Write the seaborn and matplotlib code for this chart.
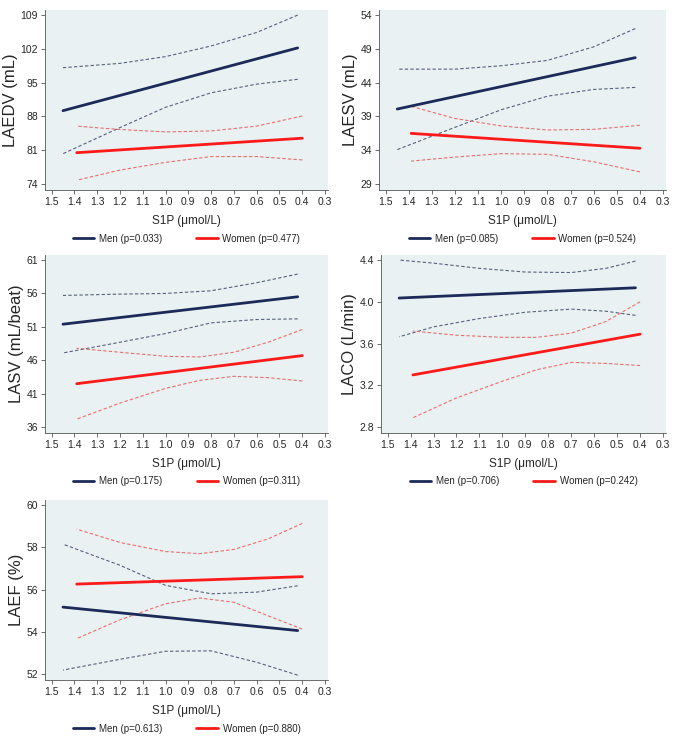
import matplotlib
matplotlib.use('Agg')
import matplotlib.pyplot as plt
import seaborn as sns
import numpy as np

# S1P axis (reversed), lines run between these x ends
men_x_ends = [1.45, 0.42]
women_x_ends = [1.39, 0.40]

# ---- LAEDV ----
laedv_men = [89.2, 102.2]
laedv_women = [80.5, 83.5]
laedv_men_ci_x = [1.45, 1.2, 1.0, 0.8, 0.6, 0.42]
laedv_men_up = [98.1, 99.0, 100.4, 102.6, 105.4, 109.0]
laedv_men_lo = [80.3, 85.7, 89.9, 92.9, 94.7, 95.7]
laedv_women_ci_x = [1.39, 1.2, 1.0, 0.8, 0.6, 0.40]
laedv_women_up = [86.0, 85.3, 84.8, 85.0, 86.0, 88.1]
laedv_women_lo = [74.8, 76.9, 78.5, 79.7, 79.7, 79.0]

# ---- LAESV ----
laesv_men = [40.1, 47.7]
laesv_women = [36.5, 34.3]
laesv_men_ci_x = [1.45, 1.2, 1.0, 0.8, 0.6, 0.42]
laesv_men_up = [46.0, 46.0, 46.5, 47.3, 49.3, 52.0]
laesv_men_lo = [34.1, 37.4, 40.0, 42.0, 43.0, 43.3]
laesv_women_ci_x = [1.39, 1.2, 1.0, 0.8, 0.6, 0.40]
laesv_women_up = [40.5, 38.7, 37.6, 37.0, 37.1, 37.7]
laesv_women_lo = [32.4, 33.0, 33.5, 33.4, 32.3, 30.8]

# ---- LASV ----
lasv_men = [51.4, 55.5]
lasv_women = [42.5, 46.7]
lasv_men_ci_x = [1.45, 1.2, 1.0, 0.8, 0.6, 0.42]
lasv_men_up = [55.7, 55.9, 56.0, 56.4, 57.6, 58.9]
lasv_men_lo = [47.1, 48.7, 50.0, 51.6, 52.1, 52.2]
lasv_women_ci_x = [1.39, 1.2, 1.0, 0.85, 0.7, 0.55, 0.40]
lasv_women_up = [47.8, 47.2, 46.6, 46.5, 47.2, 48.7, 50.6]
lasv_women_lo = [37.2, 39.6, 41.8, 43.0, 43.6, 43.4, 42.9]

# ---- LACO ----
laco_men = [4.036, 4.134]
laco_women = [3.30, 3.69]
laco_men_ci_x = [1.45, 1.3, 1.1, 0.9, 0.7, 0.55, 0.42]
laco_men_up = [4.40, 4.37, 4.32, 4.285, 4.28, 4.32, 4.39]
laco_men_lo = [3.665, 3.76, 3.84, 3.90, 3.93, 3.91, 3.87]
laco_women_ci_x = [1.39, 1.2, 1.0, 0.85, 0.7, 0.55, 0.40]
laco_women_up = [3.72, 3.68, 3.66, 3.66, 3.70, 3.81, 4.00]
laco_women_lo = [2.89, 3.08, 3.24, 3.35, 3.42, 3.41, 3.39]

# ---- LAEF ----
laef_men = [55.17, 54.06]
laef_women = [56.26, 56.61]
laef_men_ci_x = [1.45, 1.2, 1.0, 0.8, 0.6, 0.42]
laef_men_up = [58.15, 57.15, 56.2, 55.8, 55.88, 56.18]
laef_men_lo = [52.19, 52.7, 53.08, 53.1, 52.56, 51.95]
laef_women_ci_x = [1.39, 1.2, 1.0, 0.85, 0.7, 0.55, 0.40]
laef_women_up = [58.86, 58.23, 57.8, 57.7, 57.9, 58.4, 59.13]
laef_women_lo = [53.68, 54.57, 55.33, 55.6, 55.4, 54.76, 54.13]

panels = [
    dict(ylabel='LAEDV (mL)', yticks=[74, 81, 88, 95, 102, 109], fmt='{:.0f}',
         men=laedv_men, women=laedv_women,
         mcx=laedv_men_ci_x, mup=laedv_men_up, mlo=laedv_men_lo,
         wcx=laedv_women_ci_x, wup=laedv_women_up, wlo=laedv_women_lo,
         p_men='0.033', p_women='0.477'),
    dict(ylabel='LAESV (mL)', yticks=[29, 34, 39, 44, 49, 54], fmt='{:.0f}',
         men=laesv_men, women=laesv_women,
         mcx=laesv_men_ci_x, mup=laesv_men_up, mlo=laesv_men_lo,
         wcx=laesv_women_ci_x, wup=laesv_women_up, wlo=laesv_women_lo,
         p_men='0.085', p_women='0.524'),
    dict(ylabel='LASV (mL/beat)', yticks=[36, 41, 46, 51, 56, 61], fmt='{:.0f}',
         men=lasv_men, women=lasv_women,
         mcx=lasv_men_ci_x, mup=lasv_men_up, mlo=lasv_men_lo,
         wcx=lasv_women_ci_x, wup=lasv_women_up, wlo=lasv_women_lo,
         p_men='0.175', p_women='0.311'),
    dict(ylabel='LACO (L/min)', yticks=[2.8, 3.2, 3.6, 4.0, 4.4], fmt='{:.1f}',
         men=laco_men, women=laco_women,
         mcx=laco_men_ci_x, mup=laco_men_up, mlo=laco_men_lo,
         wcx=laco_women_ci_x, wup=laco_women_up, wlo=laco_women_lo,
         p_men='0.706', p_women='0.242'),
    dict(ylabel='LAEF (%)', yticks=[52, 54, 56, 58, 60], fmt='{:.0f}',
         men=laef_men, women=laef_women,
         mcx=laef_men_ci_x, mup=laef_men_up, mlo=laef_men_lo,
         wcx=laef_women_ci_x, wup=laef_women_up, wlo=laef_women_lo,
         p_men='0.613', p_women='0.880'),
]

xticks = [1.5, 1.4, 1.3, 1.2, 1.1, 1.0, 0.9, 0.8, 0.7, 0.6, 0.5, 0.4, 0.3]

sns.set_theme(style='white')
plt.rcParams['font.family'] = ['Liberation Sans', 'DejaVu Sans']

MEN = '#1b2a58'
WOMEN = '#ff1a1a'
MEN_CI = '#55607e'
WOMEN_CI = '#f26a6a'
BG = '#e9f1f2'

fig = plt.figure(figsize=(6.76, 7.38), dpi=100)
W, H = 676, 738
# axes boxes in pixels: left, top, right, bottom
boxes = [(45, 10, 328, 190), (379, 10, 666, 190),
         (45, 255, 328, 433), (381, 255, 666, 433),
         (45, 500, 328, 680)]

for p, (l, t, r, b) in zip(panels, boxes):
    ax = fig.add_axes([l / W, 1 - b / H, (r - l) / W, (b - t) / H])
    ax.set_facecolor(BG)
    sns.lineplot(x=p['mcx'], y=p['mup'], ax=ax, color=MEN_CI, lw=0.8, linestyle=(0, (3, 2)))
    sns.lineplot(x=p['mcx'], y=p['mlo'], ax=ax, color=MEN_CI, lw=0.8, linestyle=(0, (3, 2)))
    sns.lineplot(x=p['wcx'], y=p['wup'], ax=ax, color=WOMEN_CI, lw=0.8, linestyle=(0, (3, 2)))
    sns.lineplot(x=p['wcx'], y=p['wlo'], ax=ax, color=WOMEN_CI, lw=0.8, linestyle=(0, (3, 2)))
    sns.lineplot(x=men_x_ends, y=p['men'], ax=ax, color=MEN, lw=2.0,
                 label=f"Men (p={p['p_men']})")
    sns.lineplot(x=women_x_ends, y=p['women'], ax=ax, color=WOMEN, lw=2.0,
                 label=f"Women (p={p['p_women']})")

    yt = p['yticks']
    rng = yt[-1] - yt[0]
    ax.set_ylim(yt[0] - 0.035 * rng, yt[-1] + 0.03 * rng)
    ax.set_yticks(yt)
    ax.set_yticklabels([p['fmt'].format(v) for v in yt], fontsize=7.5)
    ax.set_xlim(1.529, 0.287)
    ax.set_xticks(xticks)
    ax.set_xticklabels([f'{v:.1f}' for v in xticks], fontsize=7.5)
    ax.tick_params(axis='both', direction='out', length=3, width=0.6,
                   color='#555555', pad=2, left=True, bottom=True)
    for s in ['top', 'right']:
        ax.spines[s].set_visible(False)
    for s in ['left', 'bottom']:
        ax.spines[s].set_color('#555555')
        ax.spines[s].set_linewidth(0.6)
    ax.set_ylabel(p['ylabel'], fontsize=12, labelpad=2)
    ax.set_xlabel('S1P (μmol/L)', fontsize=8.5, labelpad=6)
    ax.legend(loc='upper center', bbox_to_anchor=(0.5, -0.205), ncol=2,
              frameon=False, fontsize=7, handlelength=2.2, columnspacing=3.5,
              handletextpad=0.5, borderpad=0.2)

plt.savefig('out.png', dpi=100, facecolor='white')
